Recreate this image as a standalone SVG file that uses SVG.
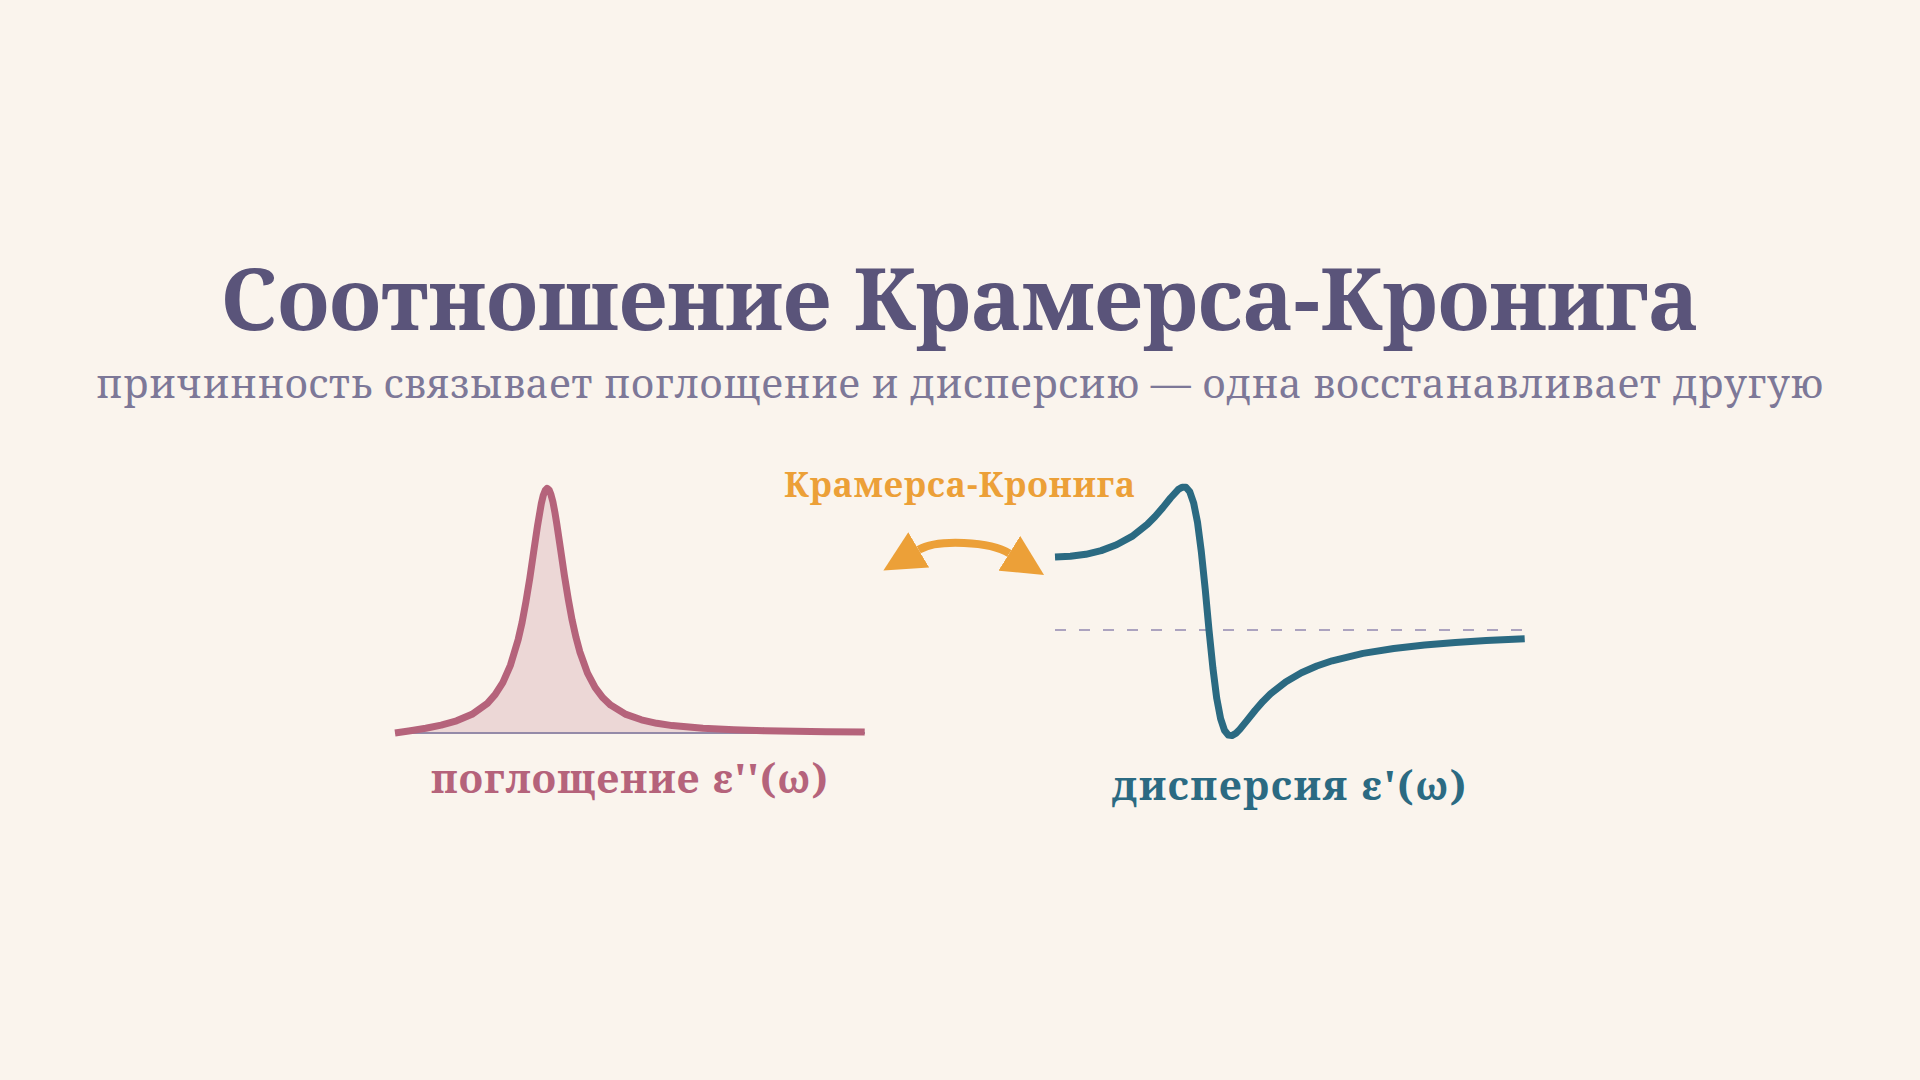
<svg xmlns="http://www.w3.org/2000/svg" width="1920" height="1080" viewBox="0 0 1920 1080">
<style>
  .serif { font-family: "Noto Serif", "DejaVu Serif", serif; }
  .title { font-size: 85.5px; font-weight: 700; fill: #5a547a; }
  .sub { font-size: 40px; fill: #7d7898; letter-spacing: 0.6px; }
  .kk { font-size: 34px; font-weight: 700; fill: #eca038; letter-spacing: 1px; }
  .lab { font-size: 40px; font-weight: 700; }
  .curve { fill: none; stroke-width: 7; stroke-linejoin: round; stroke-linecap: butt; }
</style>
<defs>
  <marker id="tri" viewBox="0 0 10 10" refX="0" refY="5" markerWidth="41" markerHeight="41" markerUnits="userSpaceOnUse" orient="auto-start-reverse">
    <path d="M0,0 L10,5 L0,10 Z" fill="#eca038"/>
  </marker>
</defs>
<rect width="1920" height="1080" fill="#faf4ed"/>
<g id="title">
  <text class="serif title" x="960" y="330" text-anchor="middle">Соотношение Крамерса-Кронига</text>
  <text class="serif sub" x="960" y="398" text-anchor="middle">причинность связывает поглощение и дисперсию — одна восстанавливает другую</text>
</g>
<g id="absorption">
  <path d="M395,733 L410.4,730.8 425.8,728.3 441.2,725.1 456.6,720.8 472,714.3 487.4,703.3 495.1,694.7 502.8,682.6 510.5,665.1 518.2,639.4 522.1,622.4 525.9,601.9 529.8,578.2 533.6,552.2 537.5,526 541.3,503.6 543.2,495.6 545.2,490.4 547.1,488.3 549,489.7 550.9,494.3 552.9,501.9 554.8,511.8 556.7,523.4 560.6,549.4 564.4,575.5 568.3,599.4 572.1,620.1 576,637.4 579.8,651.7 587.5,673.1 595.2,687.7 602.9,697.8 610.6,705.1 626,714.4 641.4,719.8 656.8,723.3 672.2,725.6 703,728.3 733.8,729.8 764.6,730.7 795.4,731.3 826.2,731.7 864.7,732 L864.7,733 Z" fill="#b5637b" fill-opacity="0.2"/>
  <line x1="395" y1="733" x2="865" y2="733" stroke="#948aa8" stroke-width="2"/>
  <polyline class="curve" stroke="#b5637b" points="395,733 410.4,730.8 425.8,728.3 441.2,725.1 456.6,720.8 472,714.3 487.4,703.3 495.1,694.7 502.8,682.6 510.5,665.1 518.2,639.4 522.1,622.4 525.9,601.9 529.8,578.2 533.6,552.2 537.5,526 541.3,503.6 543.2,495.6 545.2,490.4 547.1,488.3 549,489.7 550.9,494.3 552.9,501.9 554.8,511.8 556.7,523.4 560.6,549.4 564.4,575.5 568.3,599.4 572.1,620.1 576,637.4 579.8,651.7 587.5,673.1 595.2,687.7 602.9,697.8 610.6,705.1 626,714.4 641.4,719.8 656.8,723.3 672.2,725.6 703,728.3 733.8,729.8 764.6,730.7 795.4,731.3 826.2,731.7 864.7,732"/>
  <text class="serif lab" x="630" y="793" text-anchor="middle" fill="#b5637b" letter-spacing="1.2">поглощение ε''(ω)</text>
</g>
<g id="dispersion">
  <line x1="1055" y1="630" x2="1525" y2="630" stroke="#aca3bf" stroke-width="2" stroke-dasharray="11 13"/>
  <polyline class="curve" stroke="#2b6a82" points="1055,557 1070.4,556.3 1085.8,554.3 1101.2,550.6 1116.6,544.8 1132,536.4 1147.4,524.3 1155.1,516.5 1162.8,507.6 1170.5,498 1178.2,489.6 1182.1,487.2 1185.9,487.3 1189.8,491.8 1193.6,502.8 1197.5,522.3 1201.3,551.5 1205.2,589 1209,630 1212.9,668 1216.7,698.2 1220.6,718.6 1224.4,730.2 1228.3,735.1 1232.1,735.6 1236,733.2 1239.8,729.4 1247.5,719.9 1255.2,710.2 1262.9,701.4 1270.6,693.8 1286,681.7 1301.4,672.7 1316.8,666 1332.2,660.8 1363,653.4 1393.8,648.5 1424.6,645 1455.4,642.4 1486.2,640.5 1524.7,638.7"/>
  <text class="serif lab" x="1290" y="800" text-anchor="middle" fill="#2b6a82" letter-spacing="1.8">дисперсия ε'(ω)</text>
</g>
<g id="connectors">
  <path d="M918.7,549.8 C937.7,538.6 990.6,541.6 1009.3,553.3" fill="none" stroke="#eca038" stroke-width="8" marker-start="url(#tri)" marker-end="url(#tri)"/>
  <text class="serif kk" x="960" y="497" text-anchor="middle">Крамерса-Кронига</text>
</g>
</svg>
